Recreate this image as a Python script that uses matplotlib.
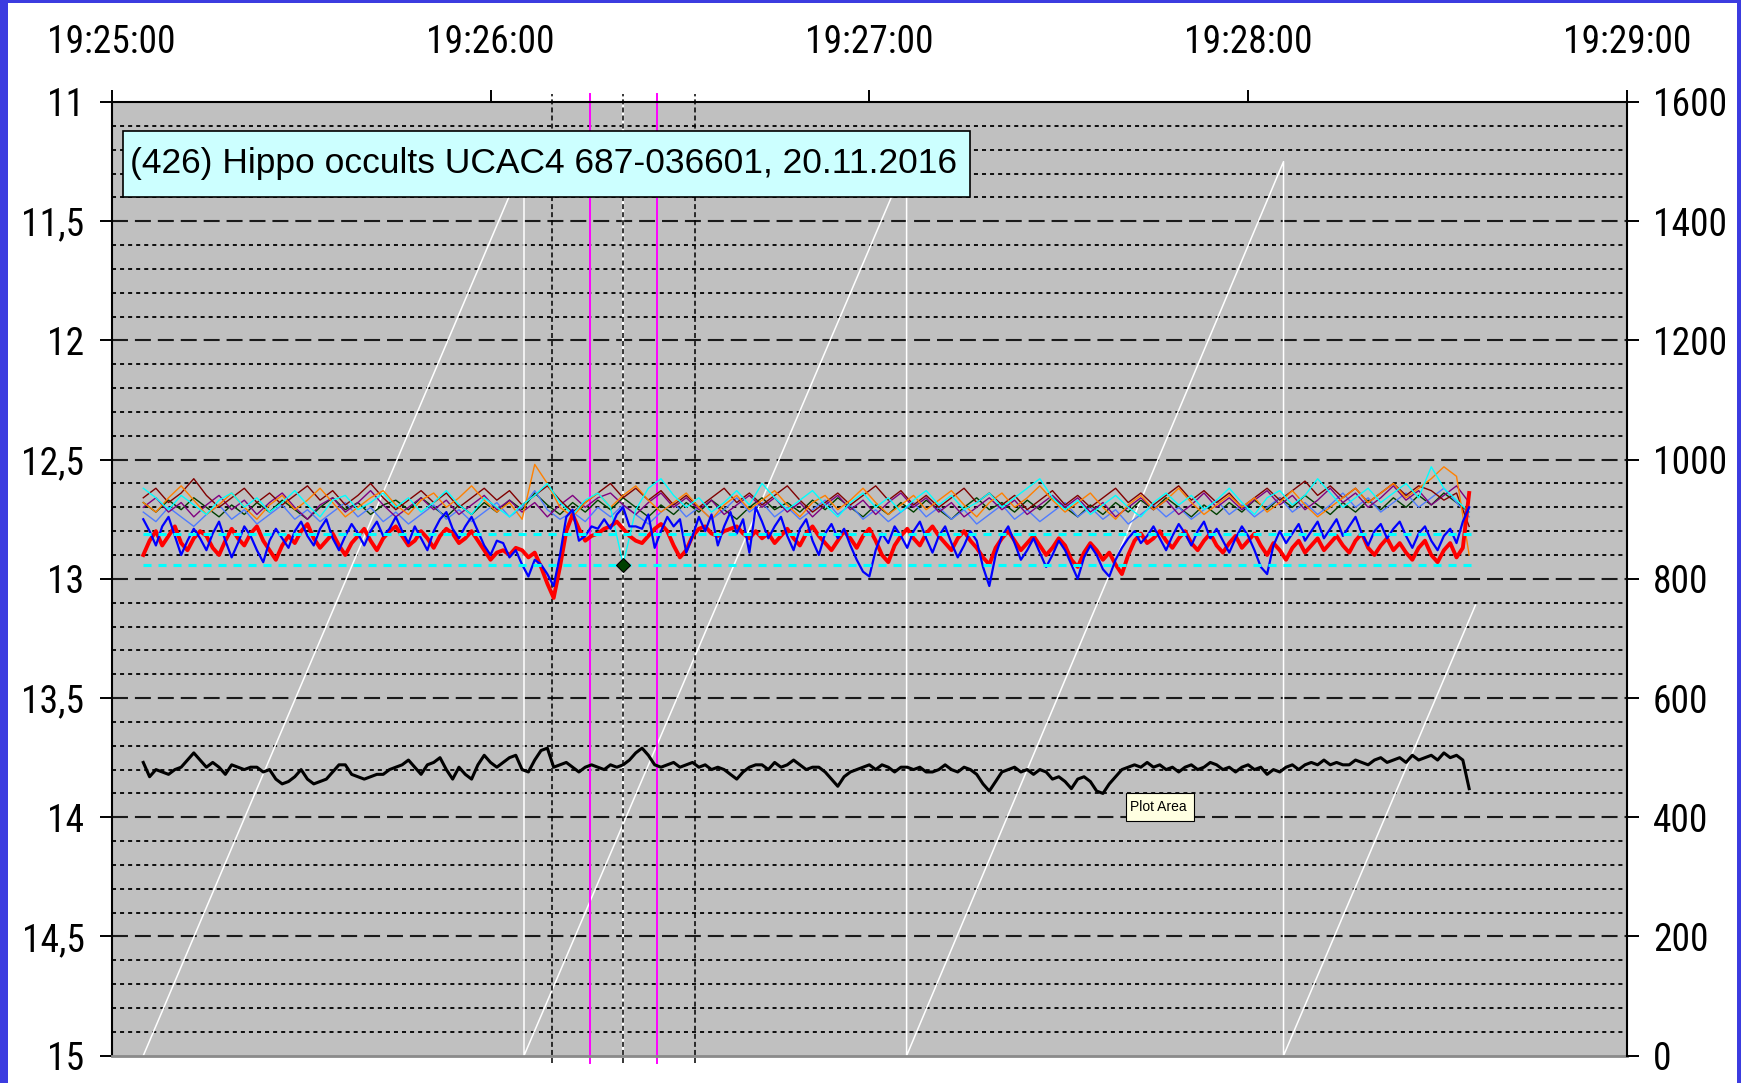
import numpy as np
import matplotlib
matplotlib.use("Agg")
import matplotlib.pyplot as plt
from matplotlib.patches import Rectangle
from matplotlib import font_manager as fm

plt.rcParams['lines.scale_dashes'] = False

# ---------------- data ----------------
title = "(426) Hippo occults UCAC4 687-036601, 20.11.2016"
xtick_pos = [0, 60, 120, 180, 240]            # seconds after 19:25:00
xtick_labels = ["19:25:00", "19:26:00", "19:27:00", "19:28:00", "19:29:00"]
left_ticks = [11, 11.5, 12, 12.5, 13, 13.5, 14, 14.5, 15]
left_labels = ["11", "11,5", "12", "12,5", "13", "13,5", "14", "14,5", "15"]
right_ticks = [0, 200, 400, 600, 800, 1000, 1200, 1400, 1600]
right_labels = ["0", "200", "400", "600", "800", "1000", "1200", "1400", "1600"]

t1 = np.arange(5, 216)        # 1 s samples
t2 = np.arange(5, 216, 2)     # 2 s samples

red = [12.90, 12.84, 12.80, 12.86, 12.82, 12.78, 12.85, 12.88, 12.83, 12.80,
       12.82, 12.87, 12.90, 12.84, 12.79, 12.83, 12.86, 12.81, 12.78, 12.84,
       12.88, 12.92, 12.86, 12.82, 12.85, 12.80, 12.77, 12.83, 12.87, 12.84,
       12.81, 12.86, 12.90, 12.85, 12.82, 12.79, 12.84, 12.88, 12.83, 12.80,
       12.78, 12.82, 12.86, 12.84, 12.80, 12.83, 12.87, 12.82, 12.79, 12.81,
       12.85, 12.83, 12.80, 12.84, 12.88, 12.92, 12.89, 12.88, 12.90, 12.87,
       12.88, 12.91, 12.89, 12.95, 13.02, 13.08, 12.95, 12.80, 12.73, 12.79,
       12.84, 12.82, 12.81, 12.79, 12.78, 12.76, 12.79, 12.82, 12.84, 12.85,
       12.82, 12.79, 12.77, 12.80, 12.86, 12.91, 12.88, 12.82, 12.79, 12.78,
       12.81, 12.82, 12.80, 12.79, 12.78, 12.81, 12.83, 12.80, 12.83, 12.81,
       12.85, 12.82, 12.79, 12.83, 12.86, 12.81, 12.78, 12.82, 12.85, 12.88,
       12.84, 12.80, 12.83, 12.87, 12.82, 12.79, 12.84, 12.90, 12.93, 12.86,
       12.82, 12.79, 12.83, 12.86, 12.81, 12.78, 12.82, 12.85, 12.88, 12.83,
       12.80, 12.84, 12.87, 12.91, 12.94, 12.87, 12.83, 12.80, 12.84, 12.88,
       12.85, 12.82, 12.86, 12.90, 12.87, 12.83, 12.86, 12.92, 12.95, 12.89,
       12.85, 12.88, 12.92, 12.89, 12.94, 12.98, 12.90, 12.84, 12.81, 12.85,
       12.83, 12.80, 12.84, 12.87, 12.83, 12.80, 12.85, 12.88, 12.84, 12.81,
       12.86, 12.89, 12.85, 12.82, 12.87, 12.84, 12.81, 12.86, 12.90, 12.85,
       12.88, 12.92, 12.87, 12.84, 12.89, 12.86, 12.83, 12.88, 12.85, 12.82,
       12.86, 12.89, 12.84, 12.81, 12.87, 12.90, 12.86, 12.83, 12.88, 12.85,
       12.89, 12.92, 12.87, 12.84, 12.90, 12.93, 12.88, 12.85, 12.91, 12.87,
       12.64]

blue = [12.75, 12.80, 12.86, 12.78, 12.74, 12.82, 12.90, 12.84, 12.79, 12.83,
        12.88, 12.81, 12.76, 12.84, 12.91, 12.85, 12.78, 12.82, 12.88, 12.93,
        12.84, 12.79, 12.83, 12.87, 12.80, 12.76, 12.82, 12.86, 12.79, 12.75,
        12.83, 12.88, 12.82, 12.77, 12.81, 12.86, 12.80, 12.76, 12.82, 12.79,
        12.74, 12.80, 12.85, 12.78, 12.83, 12.88, 12.80, 12.75, 12.72, 12.79,
        12.83, 12.78, 12.74, 12.80, 12.86, 12.90, 12.84, 12.85, 12.91, 12.88,
        12.94, 12.99, 12.92, 12.94, 12.98, 13.03, 12.90, 12.74, 12.71, 12.84,
        12.82, 12.78, 12.79, 12.75, 12.79, 12.73, 12.70, 12.78, 12.78, 12.79,
        12.73, 12.87, 12.80, 12.74, 12.78, 12.75, 12.89, 12.82, 12.74, 12.80,
        12.73, 12.86, 12.78, 12.72, 12.81, 12.75, 12.89, 12.70, 12.76, 12.83,
        12.78, 12.74, 12.82, 12.88, 12.79, 12.75, 12.84, 12.90, 12.81, 12.77,
        12.83, 12.79, 12.86, 12.92, 12.97, 12.99, 12.88, 12.81, 12.85, 12.78,
        12.82, 12.87, 12.80, 12.76, 12.83, 12.89, 12.82, 12.78, 12.85, 12.91,
        12.86, 12.80, 12.84, 12.95, 13.03, 12.90, 12.82, 12.78, 12.85, 12.92,
        12.88, 12.83, 12.89, 12.95, 12.90, 12.84, 12.88, 12.94, 13.00, 12.91,
        12.86, 12.90, 12.96, 12.99, 12.92, 12.87, 12.83, 12.80, 12.85, 12.82,
        12.78, 12.83, 12.88, 12.82, 12.77, 12.81, 12.86, 12.80, 12.76, 12.83,
        12.79, 12.84, 12.89, 12.83, 12.78, 12.82, 12.88, 12.95, 12.98, 12.86,
        12.80, 12.85, 12.81, 12.77, 12.84, 12.80, 12.76, 12.83, 12.79, 12.75,
        12.82, 12.78, 12.74, 12.81, 12.86, 12.80, 12.77, 12.83, 12.79, 12.76,
        12.82, 12.87, 12.81, 12.78, 12.84, 12.88, 12.82, 12.79, 12.85, 12.76,
        12.70]

black = [13.77, 13.83, 13.80, 13.81, 13.82, 13.80, 13.79, 13.76, 13.73, 13.76,
         13.79, 13.77, 13.79, 13.82, 13.78, 13.79, 13.80, 13.79, 13.79, 13.81,
         13.80, 13.84, 13.86, 13.85, 13.83, 13.80, 13.84, 13.86, 13.85, 13.84,
         13.81, 13.78, 13.78, 13.82, 13.83, 13.84, 13.83, 13.82, 13.82, 13.80,
         13.79, 13.78, 13.76, 13.79, 13.82, 13.78, 13.77, 13.75, 13.80, 13.84,
         13.79, 13.82, 13.84, 13.78, 13.74, 13.77, 13.79, 13.77, 13.75, 13.74,
         13.80, 13.81, 13.76, 13.72, 13.71, 13.79, 13.78, 13.77, 13.79, 13.81,
         13.79, 13.78, 13.79, 13.80, 13.78, 13.79, 13.78, 13.76, 13.73, 13.71,
         13.74, 13.78, 13.79, 13.78, 13.77, 13.79, 13.78, 13.77, 13.79, 13.78,
         13.80, 13.79, 13.80, 13.82, 13.84, 13.81, 13.79, 13.78, 13.78, 13.80,
         13.77, 13.79, 13.78, 13.76, 13.78, 13.80, 13.79, 13.79, 13.81, 13.84,
         13.87, 13.83, 13.81, 13.80, 13.79, 13.78, 13.80, 13.78, 13.79, 13.81,
         13.79, 13.79, 13.80, 13.79, 13.81, 13.81, 13.80, 13.78, 13.80, 13.81,
         13.79, 13.80, 13.82, 13.86, 13.89, 13.85, 13.81, 13.80, 13.79, 13.81,
         13.80, 13.82, 13.80, 13.81, 13.84, 13.83, 13.85, 13.88, 13.84, 13.83,
         13.85, 13.89, 13.90, 13.86, 13.83, 13.80, 13.79, 13.78, 13.79, 13.77,
         13.79, 13.78, 13.80, 13.79, 13.81, 13.79, 13.78, 13.80, 13.79, 13.77,
         13.78, 13.80, 13.79, 13.81, 13.79, 13.78, 13.80, 13.79, 13.82, 13.80,
         13.81, 13.79, 13.78, 13.80, 13.78, 13.77, 13.78, 13.76, 13.78, 13.77,
         13.78, 13.78, 13.76, 13.77, 13.78, 13.76, 13.75, 13.77, 13.76, 13.75,
         13.77, 13.74, 13.76, 13.75, 13.74, 13.76, 13.73, 13.75, 13.74, 13.76,
         13.88]

cyan = [12.62, 12.66, 12.71, 12.65, 12.69, 12.73, 12.67, 12.64, 12.70, 12.66,
        12.72, 12.68, 12.63, 12.69, 12.74, 12.67, 12.65, 12.71, 12.68, 12.64,
        12.70, 12.66, 12.72, 12.68, 12.63, 12.69, 12.73, 12.66, 12.70, 12.74,
        12.69, 12.65, 12.60, 12.68, 12.73, 12.67, 12.64, 12.70, 12.94, 12.71,
        12.62, 12.58, 12.65, 12.70, 12.66, 12.72, 12.68, 12.63, 12.69, 12.60,
        12.66, 12.71, 12.67, 12.63, 12.69, 12.74, 12.68, 12.64, 12.70, 12.66,
        12.72, 12.67, 12.63, 12.69, 12.65, 12.71, 12.68, 12.64, 12.70, 12.66,
        12.62, 12.58, 12.66, 12.71, 12.67, 12.73, 12.69, 12.65, 12.70, 12.74,
        12.68, 12.64, 12.69, 12.65, 12.71, 12.67, 12.62, 12.68, 12.73, 12.66,
        12.63, 12.69, 12.65, 12.58, 12.64, 12.70, 12.66, 12.62, 12.68, 12.64,
        12.60, 12.66, 12.53, 12.62, 12.67, 12.72]

orange = [12.68, 12.72, 12.66, 12.61, 12.67, 12.73, 12.69, 12.64, 12.70, 12.75,
          12.69, 12.65, 12.71, 12.67, 12.62, 12.68, 12.74, 12.70, 12.66, 12.63,
          12.69, 12.73, 12.67, 12.64, 12.70, 12.66, 12.61, 12.67, 12.72, 12.68,
          12.75, 12.52, 12.60, 12.70, 12.74, 12.68, 12.64, 12.70, 12.65, 12.61,
          12.67, 12.72, 12.68, 12.64, 12.70, 12.75, 12.69, 12.65, 12.71, 12.67,
          12.63, 12.69, 12.74, 12.68, 12.65, 12.71, 12.67, 12.62, 12.68, 12.73,
          12.69, 12.65, 12.71, 12.67, 12.63, 12.69, 12.74, 12.68, 12.64, 12.70,
          12.66, 12.61, 12.67, 12.72, 12.68, 12.64, 12.70, 12.75, 12.69, 12.65,
          12.71, 12.67, 12.62, 12.68, 12.73, 12.69, 12.65, 12.70, 12.66, 12.72,
          12.68, 12.63, 12.69, 12.74, 12.70, 12.66, 12.62, 12.68, 12.64, 12.60,
          12.66, 12.62, 12.58, 12.53, 12.57, 12.90]

purple = [12.70, 12.66, 12.72, 12.68, 12.74, 12.69, 12.65, 12.71, 12.67, 12.73,
          12.68, 12.64, 12.70, 12.75, 12.69, 12.66, 12.72, 12.68, 12.63, 12.69,
          12.74, 12.70, 12.66, 12.71, 12.67, 12.73, 12.69, 12.65, 12.71, 12.67,
          12.72, 12.68, 12.74, 12.69, 12.65, 12.70, 12.66, 12.64, 12.69, 12.73,
          12.68, 12.64, 12.70, 12.66, 12.71, 12.67, 12.73, 12.69, 12.65, 12.70,
          12.66, 12.72, 12.68, 12.74, 12.69, 12.65, 12.71, 12.67, 12.73, 12.68,
          12.64, 12.70, 12.66, 12.72, 12.68, 12.74, 12.70, 12.66, 12.71, 12.67,
          12.73, 12.69, 12.65, 12.70, 12.66, 12.72, 12.68, 12.74, 12.70, 12.66,
          12.71, 12.67, 12.73, 12.69, 12.64, 12.70, 12.66, 12.71, 12.67, 12.63,
          12.69, 12.65, 12.71, 12.67, 12.62, 12.68, 12.64, 12.70, 12.66, 12.61,
          12.67, 12.63, 12.69, 12.65, 12.61, 12.68]

maroon = [12.66, 12.62, 12.68, 12.64, 12.58, 12.65, 12.70, 12.66, 12.62, 12.68,
          12.64, 12.69, 12.65, 12.61, 12.67, 12.63, 12.69, 12.65, 12.60, 12.66,
          12.71, 12.67, 12.63, 12.68, 12.64, 12.70, 12.66, 12.62, 12.67, 12.63,
          12.69, 12.65, 12.61, 12.67, 12.72, 12.68, 12.64, 12.60, 12.66, 12.62,
          12.67, 12.63, 12.69, 12.65, 12.70, 12.66, 12.62, 12.68, 12.64, 12.69,
          12.65, 12.61, 12.67, 12.72, 12.68, 12.64, 12.69, 12.65, 12.61, 12.67,
          12.63, 12.69, 12.65, 12.70, 12.66, 12.62, 12.68, 12.64, 12.69, 12.65,
          12.71, 12.67, 12.63, 12.69, 12.65, 12.70, 12.66, 12.62, 12.68, 12.64,
          12.69, 12.65, 12.61, 12.67, 12.63, 12.68, 12.64, 12.70, 12.66, 12.62,
          12.67, 12.63, 12.59, 12.65, 12.61, 12.66, 12.62, 12.68, 12.64, 12.60,
          12.65, 12.61, 12.63, 12.67, 12.64, 12.78]

dkgreen = [12.68, 12.72, 12.67, 12.71, 12.66, 12.70, 12.74, 12.69, 12.73, 12.68,
           12.72, 12.67, 12.71, 12.75, 12.70, 12.66, 12.71, 12.68, 12.73, 12.69,
           12.67, 12.71, 12.66, 12.70, 12.74, 12.69, 12.73, 12.68, 12.72, 12.67,
           12.71, 12.64, 12.69, 12.73, 12.68, 12.72, 12.67, 12.71, 12.66, 12.70,
           12.74, 12.69, 12.73, 12.68, 12.72, 12.67, 12.71, 12.75, 12.70, 12.66,
           12.71, 12.68, 12.72, 12.67, 12.71, 12.66, 12.70, 12.74, 12.69, 12.73,
           12.68, 12.72, 12.67, 12.71, 12.75, 12.70, 12.66, 12.71, 12.68, 12.72,
           12.67, 12.71, 12.66, 12.70, 12.74, 12.69, 12.73, 12.68, 12.72, 12.67,
           12.71, 12.66, 12.70, 12.74, 12.69, 12.73, 12.68, 12.72, 12.67, 12.71,
           12.66, 12.70, 12.65, 12.69, 12.73, 12.68, 12.72, 12.67, 12.71, 12.66,
           12.70, 12.65, 12.69, 12.64, 12.68, 12.72]

cornflower = [12.72, 12.76, 12.70, 12.74, 12.78, 12.73, 12.69, 12.75, 12.71, 12.77,
              12.73, 12.69, 12.75, 12.71, 12.76, 12.72, 12.68, 12.74, 12.70, 12.76,
              12.72, 12.77, 12.73, 12.69, 12.75, 12.71, 12.76, 12.72, 12.68, 12.74,
              12.70, 12.63, 12.71, 12.75, 12.72, 12.76, 12.70, 12.74, 12.69, 12.73,
              12.77, 12.72, 12.68, 12.74, 12.70, 12.75, 12.71, 12.66, 12.72, 12.68,
              12.74, 12.70, 12.75, 12.71, 12.67, 12.73, 12.69, 12.75, 12.71, 12.76,
              12.72, 12.68, 12.74, 12.70, 12.75, 12.71, 12.77, 12.73, 12.69, 12.75,
              12.71, 12.76, 12.72, 12.68, 12.74, 12.70, 12.75, 12.71, 12.77, 12.73,
              12.69, 12.74, 12.70, 12.75, 12.71, 12.67, 12.73, 12.69, 12.74, 12.70,
              12.66, 12.72, 12.68, 12.73, 12.69, 12.64, 12.70, 12.66, 12.72, 12.68,
              12.64, 12.70, 12.66, 12.62, 12.68, 12.74]

# frame counter (right axis)
counter_t = [5.0, 65.3, 65.3, 125.9, 125.9, 185.6, 185.6, 216.0]
counter_v = [0, 1500, 0, 1500, 0, 1500, 0, 756]

# level lines and event marker
level_t = [5.0, 216.0]
level_values = [12.81, 12.94]
event_t = [81.0]
event_mag = [12.94]

# vertical markers (seconds after 19:25:00)
dash_lines = [69.7, 92.4]
mid_line = [81.0]
magenta_lines = [75.75, 86.3]

# ---------------- fonts ----------------
names = {f.name for f in fm.fontManager.ttflist}
narrow = None
for cand in ['Liberation Sans Narrow', 'Arial Narrow', 'Roboto Condensed', 'DejaVu Sans Condensed']:
    if cand in names:
        narrow = cand
        break
if narrow:
    tick_family, tick_size = narrow, 27
else:
    tick_family, tick_size = 'Liberation Sans', 23

# ---------------- figure ----------------
fig = plt.figure(figsize=(17.41, 10.83), dpi=100, facecolor='#3c3ce0')
fig.add_artist(Rectangle((0.0046, 0.0), 0.9931, 0.9972, transform=fig.transFigure,
                         facecolor='white', edgecolor='none', zorder=-10))

ax = fig.add_axes([0.06416, 0.02521, 0.87036, 0.88061])
ax.set_facecolor('#c0c0c0')
ax2 = ax.twinx()

# grid
for v in np.arange(11.1, 15.0, 0.1):
    if abs(v * 2 - round(v * 2)) < 1e-6:
        continue
    ax.axhline(v, color='black', lw=1.3, dashes=(2.9, 2.9), zorder=1)
for v in [11.5, 12, 12.5, 13, 13.5, 14, 14.5]:
    ax.axhline(v, color='#1a1a1a', lw=1.5, dashes=(11.5, 5.0), zorder=1.1)

# counter sawtooth (right-axis values, drawn below data)
ax.plot(counter_t, counter_v, transform=ax2.transData, color='white', lw=1.1, zorder=2)

# vertical markers
ext = 0.008
for x in dash_lines:
    ax.axvline(x, ymin=-ext, ymax=1 + ext, color='black', lw=1.1, dashes=(3.6, 2.2),
               clip_on=False, zorder=2.5)
for x in mid_line:
    ax.axvline(x, ymin=-ext, ymax=1 + ext, color='white', lw=1.6, clip_on=False, zorder=2.4)
    ax.axvline(x, ymin=-ext, ymax=1 + ext, color='black', lw=1.1, dashes=(3.6, 2.2),
               clip_on=False, zorder=2.5)
for x in magenta_lines:
    ax.axvline(x, ymin=-ext, ymax=1 + ext, color='#ff00ff', lw=1.4, clip_on=False, zorder=2.5)

# data series
ax.plot(t2, dkgreen, color='#004000', lw=1.0, zorder=3)
ax.plot(t2, cornflower, color='#4f7cff', lw=1.0, zorder=3)
ax.plot(t2, purple, color='#800080', lw=1.0, zorder=3)
ax.plot(t2, maroon, color='#800000', lw=1.0, zorder=3)
ax.plot(t2, orange, color='#ff8000', lw=1.0, zorder=3)
ax.plot(t2, cyan, color='#00ffff', lw=1.0, zorder=3)
ax.plot(t1, red, color='#ff0000', lw=2.8, zorder=4)
ax.plot(t1, blue, color='#0000ff', lw=1.6, zorder=4.1)
ax.plot(t1, black, color='black', lw=2.2, zorder=4)

for v in level_values:
    ax.plot(level_t, [v, v], color='#00ffff', lw=2.2, dashes=(5.8, 5.0), zorder=5)
ax.plot(event_t, event_mag, marker='D', markersize=7, color='#004000',
        markeredgecolor='black', markeredgewidth=0.8, linestyle='none', zorder=6)

# limits
ax.set_xlim(0, 240)
ax.set_ylim(15, 11)
ax2.set_ylim(0, 1600)

# ticks
ax.xaxis.tick_top()
ax.set_xticks(xtick_pos)
ax.set_xticklabels(xtick_labels)
ax.set_yticks(left_ticks)
ax.set_yticklabels(left_labels)
ax2.set_yticks(right_ticks)
ax2.set_yticklabels(right_labels)
ax.tick_params(axis='x', which='both', direction='out', length=8.6, width=1.4, pad=21,
               labelsize=tick_size, labelfontfamily=tick_family, top=True, bottom=False)
ax.tick_params(axis='y', which='both', direction='out', length=8.6, width=1.4, pad=11,
               labelsize=tick_size, labelfontfamily=tick_family, right=False)
ax2.tick_params(axis='y', which='both', direction='out', length=8.6, width=1.4, pad=10,
                labelsize=tick_size, labelfontfamily=tick_family)
ax.minorticks_off()
ax2.minorticks_off()

# spines
ax.spines['right'].set_visible(False)
ax.spines['left'].set_linewidth(1.5)
ax.spines['top'].set_linewidth(1.5)
ax.spines['bottom'].set_color('#8a8a8a')
ax.spines['bottom'].set_linewidth(2.0)
for s in ['top', 'left', 'bottom']:
    ax2.spines[s].set_visible(False)
ax2.spines['right'].set_linewidth(1.5)

# title box
ax.add_patch(Rectangle((0.00746, 0.9004), 0.5589, 0.0692, transform=ax.transAxes,
                       facecolor='#ccffff', edgecolor='black', lw=1.2, zorder=10))
ax.text(0.0121, 0.935, title, transform=ax.transAxes, ha='left', va='center',
        fontsize=25.5, family='Liberation Sans', zorder=11)

# tooltip
ax.add_patch(Rectangle((0.6694, 0.2461), 0.0448, 0.0293, transform=ax.transAxes,
                       facecolor='#ffffe1', edgecolor='black', lw=0.8, zorder=10))
ax.text(0.6718, 0.2607, "Plot Area", transform=ax.transAxes, ha='left', va='center',
        fontsize=10, family='Liberation Sans', zorder=11)

fig.savefig('out.png', dpi=100, facecolor=fig.get_facecolor())
